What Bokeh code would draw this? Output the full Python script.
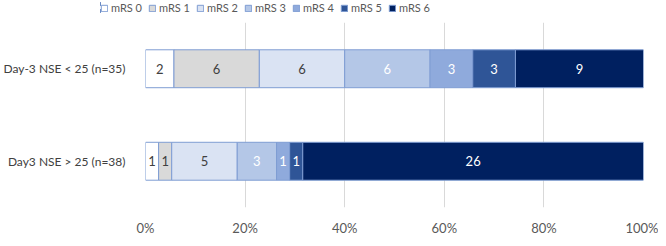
import pandas as pd
from bokeh.plotting import figure
from bokeh.layouts import column, row
from bokeh.models import (ColumnDataSource, Legend, LegendItem, NumeralTickFormatter,
                          FixedTicker, FactorRange, Range1d)
from bokeh.core.properties import value
from bokeh.embed import file_html
from bokeh.resources import INLINE

groups = ["Day3 NSE > 25 (n=38)", "Day-3 NSE < 25 (n=35)"]
levels = ["mRS 0", "mRS 1", "mRS 2", "mRS 3", "mRS 4", "mRS 5", "mRS 6"]
counts_low = [2, 6, 6, 6, 3, 3, 9]      # Day-3 NSE < 25
counts_high = [1, 1, 5, 3, 1, 1, 26]    # Day3 NSE > 25
colors = ["#FFFFFF", "#D9D9D9", "#DAE3F3", "#B4C7E7", "#8FAADC", "#2F5597", "#002060"]
text_colors = ["#404040", "#404040", "#404040", "#FFFFFF", "#FFFFFF", "#FFFFFF", "#FFFFFF"]
ticks = [0, 0.2, 0.4, 0.6, 0.8, 1.0]

FONT = "Lato"
EDGE = "#7F9DD3"
W = 658

# ---- main chart ----
p = figure(width=W, height=224, y_range=FactorRange(*groups), x_range=(0, 1),
           output_backend="svg", toolbar_location=None,
           min_border_left=144, min_border_right=15,
           min_border_top=8, min_border_bottom=20)
p.outline_line_color = None

# ---- legend strip ----
lg = figure(width=W, height=14, y_range=FactorRange(*groups), x_range=Range1d(2, 3),
            output_backend="svg", toolbar_location=None,
            x_axis_type=None, y_axis_type=None,
            min_border_left=100, min_border_right=0, min_border_top=0, min_border_bottom=0)
lg.outline_line_color = None
lg.grid.visible = False

rows = {groups[1]: counts_low, groups[0]: counts_high}
items = []
for i, lev in enumerate(levels):
    ys, lefts, rights, labels, mids = [], [], [], [], []
    for g, cnts in rows.items():
        n = sum(cnts)
        left = sum(cnts[:i]) / n
        right = sum(cnts[:i + 1]) / n
        ys.append(g)
        lefts.append(left)
        rights.append(right)
        mids.append((left + right) / 2)
        labels.append(str(cnts[i]))
    src = ColumnDataSource(dict(y=ys, left=lefts, right=rights, mid=mids, label=labels))
    p.hbar(y="y", left="left", right="right", height=0.41, source=src,
           fill_color=colors[i], line_color=EDGE, line_width=1)
    p.text(x="mid", y="y", text="label", source=src, text_align="center",
           text_baseline="middle", text_font=value(FONT), text_font_size="13px",
           text_color=text_colors[i])
    r = lg.hbar(y="y", left="left", right="right", height=0.41, source=src,
                fill_color=colors[i], line_color=EDGE, line_width=1)
    items.append(LegendItem(label=lev, renderers=[r]))

legend = Legend(items=items, orientation="horizontal", location=(0, 0))
legend.label_text_font = FONT
legend.label_text_font_size = "11px"
legend.label_text_color = "#595959"
legend.glyph_width = 8
legend.glyph_height = 8
legend.label_standoff = 3
legend.spacing = 6
legend.padding = 0
legend.margin = 0
legend.label_height = 12
legend.border_line_color = None
legend.background_fill_alpha = 0
lg.add_layout(legend)

p.xaxis.ticker = FixedTicker(ticks=ticks)
p.xaxis.formatter = NumeralTickFormatter(format="0%")
p.xaxis.axis_line_color = None
p.xaxis.major_tick_line_color = None
p.xaxis.minor_tick_line_color = None
p.xaxis.major_label_text_font = FONT
p.xaxis.major_label_text_font_size = "13px"
p.xaxis.major_label_text_color = "#595959"
p.xaxis.major_label_standoff = 6

p.yaxis.axis_line_color = None
p.yaxis.major_tick_line_color = None
p.yaxis.major_label_text_font = FONT
p.yaxis.major_label_text_font_size = "12px"
p.yaxis.major_label_text_color = "#404040"
p.yaxis.major_label_standoff = 14

p.xgrid.grid_line_color = "#D9D9D9"
p.ygrid.grid_line_color = None

layout = column(row(lg), p, spacing=0)
open("out.html", "w").write(file_html(layout, INLINE))
